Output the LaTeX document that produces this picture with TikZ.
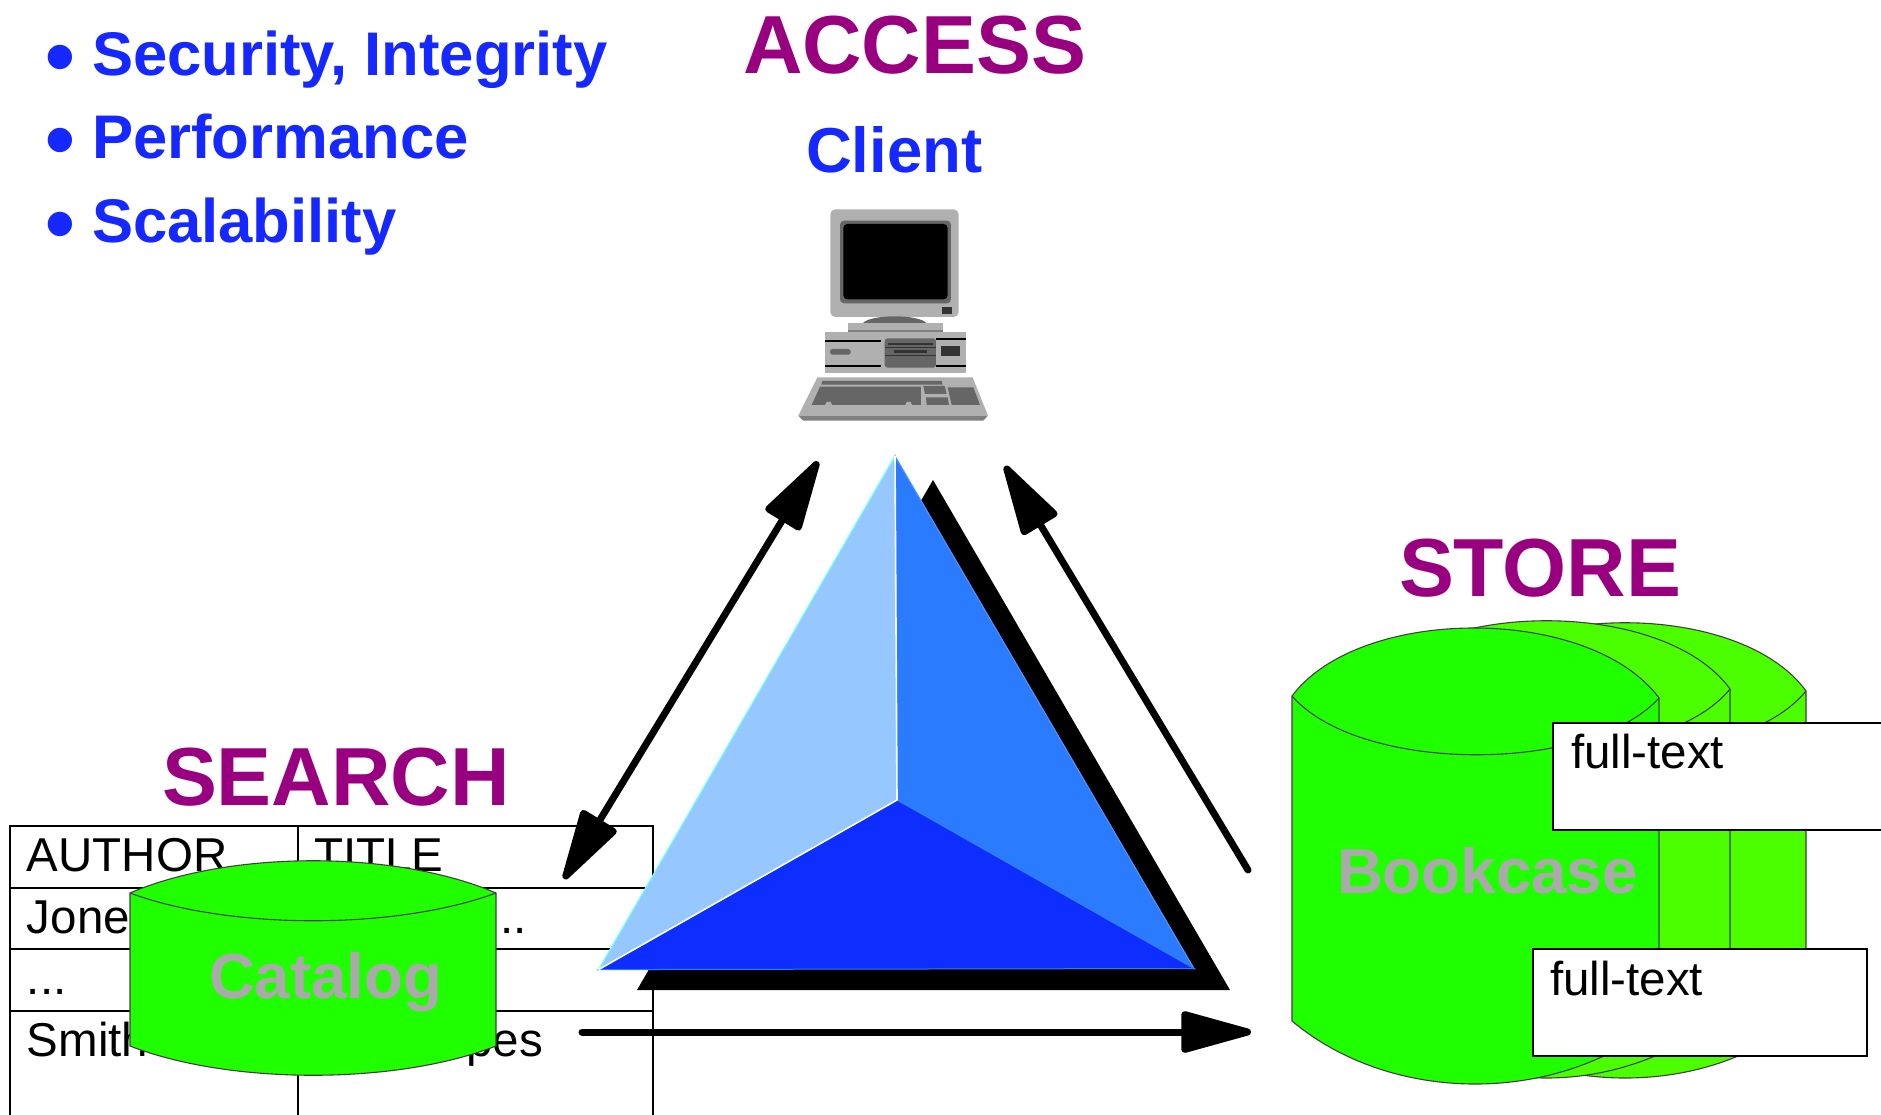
\documentclass[tikz,border=0pt]{standalone}
\usepackage{fontspec}
\setmainfont{Liberation Sans}
\usetikzlibrary{arrows.meta}
\definecolor{titlepurple}{HTML}{990080}
\definecolor{textblue}{HTML}{1428FF}
\definecolor{cylgreen}{HTML}{1FFF00}
\definecolor{backgreen}{HTML}{4CFF00}
\definecolor{labelgrey}{HTML}{AAAAAA}
\definecolor{triLight}{HTML}{96C8FF}
\definecolor{triMid}{HTML}{2B7BFF}
\definecolor{triDark}{HTML}{0D2EFF}
\definecolor{triEdge}{HTML}{70FFFF}
\definecolor{pcLight}{HTML}{B0B0B0}
\definecolor{pcMid}{HTML}{666666}
\definecolor{pcDark}{HTML}{333333}
\tikzset{
  txt/.style={anchor=base west,inner sep=0pt,outer sep=0pt},
  titletext/.style={txt,text=titlepurple,font=\bfseries\fontsize{82.4}{86}\selectfont},
  bluetext/.style={txt,text=textblue,font=\bfseries\fontsize{61.6}{66}\selectfont},
  bullettext/.style={txt,text=textblue,font=\bfseries\fontsize{85}{88}\selectfont},
  clienttext/.style={txt,text=textblue,font=\bfseries\fontsize{63.5}{66}\selectfont},
  celltext/.style={txt,font=\fontsize{47.5}{50}\selectfont},
  cyllabel/.style={txt,text=labelgrey,font=\bfseries\fontsize{63.6}{66}\selectfont},
  tableline/.style={draw=black,line width=2pt},
  cylshape/.style={fill=cylgreen,draw=black!75,line width=1.1pt},
  backcyl/.style={fill=backgreen,draw=black!75,line width=1.1pt},
  cylline/.style={draw=black!75,line width=1.1pt},
  textbox/.style={fill=white,draw=black,line width=2.2pt},
  flowarrow/.style={draw=black,line width=7pt,line cap=round,
     -{Triangle[length=80pt,width=42pt,round]}},
  bothflow/.style={draw=black,line width=7pt,
     {Triangle[length=80pt,width=42pt,round]}-{Triangle[length=80pt,width=42pt,round]}},
}
\begin{document}
\begin{tikzpicture}[x=1pt,y=-1pt]
\useasboundingbox (0,0) rectangle (1881,1115);
\clip (0,0) rectangle (1881,1115);
\fill[white] (0,0) rectangle (1881,1115);

% bullets
\node[bullettext] (b1) at (45,86) {•};
\node[bluetext] (t1) at (92,76) {Security, Integrity};
\node[bullettext] (b2) at (45,169) {•};
\node[bluetext] (t2) at (92,159) {Performance};
\node[bullettext] (b3) at (45,253) {•};
\node[bluetext] (t3) at (92,243) {Scalability};

% titles
\node[titletext] (access) at (743,74) {ACCESS};
\node[clienttext] (client) at (806,173) {Client};
\node[titletext] (store) at (1399,596) {STORE};
\node[titletext] (search) at (162,805) {SEARCH};

% computer
\begin{scope}[shift={(770,190)},x=0.3333pt,y=-0.3333pt]
  \fill[pcLight,rounded corners=5pt] (181,58) rectangle (566,381);
  \fill[pcMid,rounded corners=4pt] (210,92) rectangle (543,340);
  \fill[black,rounded corners=4pt] (220,102) rectangle (533,328);
  \fill[pcDark] (515,352) rectangle (545,372);
  \fill[pcMid] (278,400) .. controls (300,372) and (448,372) .. (470,400) -- cycle;
  \fill[pcLight] (234,400) rectangle (520,420);
  \fill[gray] (234,420) rectangle (520,428);
  \fill[pcLight] (165,427) rectangle (587,549);
  \fill[black] (165,449) rectangle (333,455);
  \fill[black] (165,524) rectangle (333,530);
  \fill[black] (498,445) rectangle (587,451);
  \fill[black] (498,525) rectangle (587,531);
  \fill[pcMid,rounded corners=2.5pt] (180,477) rectangle (242,494);
  \fill[pcMid,rounded corners=3pt] (344,445) rectangle (498,533);
  \fill[pcDark] (344,470) rectangle (498,474);
  \fill[pcDark] (355,458) rectangle (490,465);
  \fill[pcDark] (372,480) rectangle (471,488);
  \fill[pcDark] (344,494) rectangle (498,498);
  \fill[pcDark] (514,468) rectangle (569,498);
  \fill[pcLight] (142,562) -- (608,562) -- (654,677) -- (85,677) -- cycle;
  \fill[gray] (85,677) -- (654,677) -- (640,692) -- (100,692) -- cycle;
  \fill[pcMid] (157,573) -- (515,573) -- (518,584) -- (154,584) -- cycle;
  \fill[pcMid] (150,590) -- (453,590) -- (453,645) -- (125,645) -- cycle;
  \fill[pcMid] (533,592) -- (610,592) -- (630,645) -- (545,645) -- cycle;
  \fill[pcMid] (460,588) -- (524,588) -- (530,612) -- (465,612) -- cycle;
  \fill[pcMid] (468,622) -- (533,622) -- (537,645) -- (470,645) -- cycle;
  \fill[pcLight] (165,645) -- (170,636) -- (182,636) -- (186,645) -- cycle;
  \fill[pcLight] (406,645) -- (410,636) -- (422,636) -- (426,645) -- cycle;
\end{scope}

% table
\draw[tableline] (10,1115) -- (10,826) -- (653,826) -- (653,1115);
\draw[tableline] (298,826) -- (298,1115);
\draw[tableline] (10,888) -- (653,888);
\draw[tableline] (10,949) -- (653,949);
\draw[tableline] (10,1011) -- (653,1011);
\node[celltext] (c11) at (27,871) {AUTHOR};
\node[celltext] (c12) at (314,871) {TITLE};
\node[celltext] (c21) at (27,933) {Jones};
\node[celltext,anchor=base east] (c22) at (527,933) {...};
\node[celltext] (c31) at (27,994) {...};
\node[celltext] (c41) at (27,1056) {Smith};
\node[celltext,anchor=base east] (c42) at (543,1056) {pes};

% catalog cylinder
\path[cylshape] (130,893) .. controls (230,850) and (396,850) .. (496,893)
   -- (496,1046) .. controls (396,1085) and (230,1085) .. (130,1046) -- cycle;
\path[cylline] (130,893) .. controls (230,930) and (396,930) .. (496,893);
\node[cyllabel] (catalog) at (209,998) {Catalog};

% bookcase cylinders
\path[backcyl] (1444,691) .. controls (1510,600) and (1740,600) .. (1806,691)
   -- (1806,1012) .. controls (1715,1100) and (1535,1100) .. (1444,1012) -- cycle;
\path[cylline] (1444,691) .. controls (1510,772) and (1740,772) .. (1806,691);
\path[backcyl] (1363,689) .. controls (1429,598) and (1664,598) .. (1730,689)
   -- (1730,1012) .. controls (1617,1100) and (1476,1100) .. (1363,1012) -- cycle;
\path[cylline] (1363,689) .. controls (1429,770) and (1664,770) .. (1730,689);
\path[cylshape] (1292,696) .. controls (1360,605) and (1590,605) .. (1659,698)
   -- (1659,1021) .. controls (1558,1105) and (1392,1105) .. (1292,1021) -- cycle;
\path[cylline] (1292,696) .. controls (1360,774) and (1590,774) .. (1659,698);
\node[cyllabel] (bookcase) at (1337,893) {Bookcase};

% full-text boxes
\path[textbox] (1553,723) rectangle (1900,830);
\node[celltext] (ft1) at (1571,768) {full-text};
\path[textbox] (1533,949) rectangle (1867,1056);
\node[celltext] (ft2) at (1550,995) {full-text};

% triangle
\fill[black] (933,480) -- (1230,990) -- (637,990) -- cycle;
\coordinate (apex) at (895,456);
\coordinate (tl) at (598.5,969.6);
\coordinate (tr) at (1194,968.5);
\coordinate (tc) at (897,800);
\path[fill=triLight,draw=triEdge,line width=1.2pt] (apex) -- (tc) -- (tl) -- cycle;
\path[fill=triMid,draw=triMid!80!white,line width=1pt] (apex) -- (tr) -- (tc) -- cycle;
\path[fill=triDark,draw=triMid,line width=1pt] (tl) -- (tr) -- (tc) -- cycle;
\draw[white,line width=1.6pt] (apex) -- (tc) -- (tl);

% arrows
\coordinate (aTop) at (818,461.5);
\coordinate (aBot) at (564,879);
\coordinate (bTail) at (1248,870);
\coordinate (bTip) at (1005,466);
\coordinate (cTail) at (582,1032);
\coordinate (cTip) at (1251,1032);
\draw[bothflow] (aBot) -- (aTop);
\draw[flowarrow] (bTail) -- (bTip);
\draw[flowarrow] (cTail) -- (cTip);
\end{tikzpicture}
\end{document}
